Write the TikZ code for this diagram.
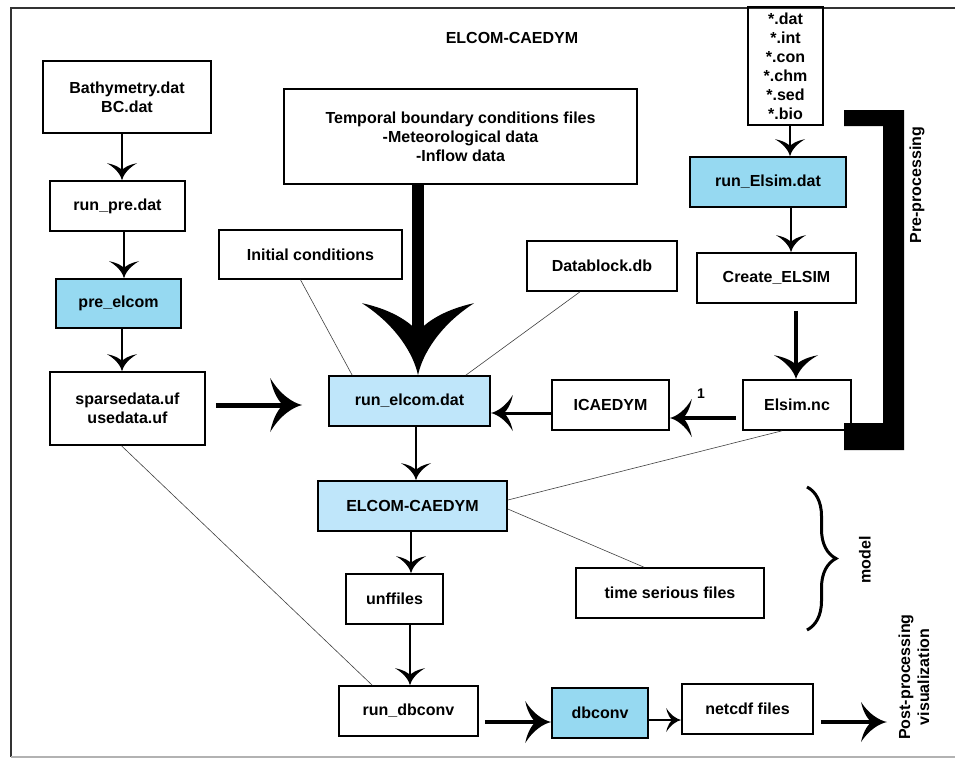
\documentclass[tikz,border=0pt]{standalone}
\usepackage{fontspec}
\setmainfont{Liberation Sans}
\usetikzlibrary{arrows.meta, decorations.pathreplacing}

\definecolor{procblue}{HTML}{96D9F1}
\definecolor{runblue}{HTML}{BFE6FA}

% filled barbed tip with curved arms
\pgfdeclarearrow{
  name = Barb,
  parameters = {\the\pgfarrowlength,\the\pgfarrowwidth},
  setup code = {
    \pgfarrowssettipend{0pt}
    \pgfarrowssetlineend{-.5\pgfarrowlength}
    \pgfarrowssetbackend{-\pgfarrowlength}
    \pgfarrowsupperhullpoint{-\pgfarrowlength}{.5\pgfarrowwidth}
    \pgfarrowsupperhullpoint{0pt}{0pt}
    \pgfarrowssavethe\pgfarrowlength
    \pgfarrowssavethe\pgfarrowwidth
  },
  drawing code = {
    \pgfpathmoveto{\pgfpointorigin}
    \pgfpathcurveto{\pgfpoint{-.3\pgfarrowlength}{.04\pgfarrowwidth}}{\pgfpoint{-.7\pgfarrowlength}{.2\pgfarrowwidth}}{\pgfpoint{-\pgfarrowlength}{.5\pgfarrowwidth}}
    \pgfpathcurveto{\pgfpoint{-.9\pgfarrowlength}{.2\pgfarrowwidth}}{\pgfpoint{-.7\pgfarrowlength}{.05\pgfarrowwidth}}{\pgfpoint{-.6\pgfarrowlength}{0pt}}
    \pgfpathcurveto{\pgfpoint{-.7\pgfarrowlength}{-.05\pgfarrowwidth}}{\pgfpoint{-.9\pgfarrowlength}{-.2\pgfarrowwidth}}{\pgfpoint{-\pgfarrowlength}{-.5\pgfarrowwidth}}
    \pgfpathcurveto{\pgfpoint{-.7\pgfarrowlength}{-.2\pgfarrowwidth}}{\pgfpoint{-.3\pgfarrowlength}{-.04\pgfarrowwidth}}{\pgfpointorigin}
    \pgfpathclose
    \pgfusepathqfill
  },
  defaults = {length=16pt, width=30pt}
}

\tikzset{
  box/.style={draw, line width=1.6pt, inner sep=0pt, align=center},
  procbox/.style={box, fill=procblue},
  runbox/.style={box, fill=runblue},
  flow/.style={line width=2pt, -{Barb[length=17pt,width=30pt]}},
  link/.style={line width=0.6pt, black!75},
}

\begin{document}
\begin{tikzpicture}[x=1pt, y=-1pt, font=\fontsize{16}{19}\selectfont\bfseries]
\useasboundingbox (0,0) rectangle (955,761);
% frame
\draw[line width=2pt, black!80] (958,8) -| (11,757);
\draw[line width=1.5pt, black!30] (11,757) -- (958,757);

\node (title) at (512,38) {ELCOM-CAEDYM};

% left column
\node[box, minimum width=168pt, minimum height=72pt] (bathy) at (127,97) {Bathymetry.dat\\BC.dat};
\node[box, minimum width=135pt, minimum height=50pt] (runpre) at (117.5,206) {run\_pre.dat};
\node[procbox, minimum width=125pt, minimum height=49pt] (preelcom) at (118.5,303.5) {pre\_elcom};
\node[box, minimum width=155pt, minimum height=73pt] (sparse) at (127.5,408.5) {sparsedata.uf\\usedata.uf};

% middle column
\node[box, minimum width=353pt, minimum height=95pt] (temporal) at (460.5,136.5) {Temporal boundary conditions files\\-Meteorological data\\-Inflow data};
\node[box, minimum width=183pt, minimum height=49pt] (initc) at (310.5,254.5) {Initial conditions};
\node[box, minimum width=150pt, minimum height=50pt] (datab) at (602,266) {Datablock.db};
\node[runbox, minimum width=161pt, minimum height=50pt] (runelcom) at (409.5,401) {run\_elcom.dat};
\node[box, minimum width=117pt, minimum height=50pt] (icaedym) at (610.5,405) {ICAEDYM};
\node[runbox, minimum width=189pt, minimum height=50pt] (elcom) at (412.5,506) {ELCOM-CAEDYM};
\node[box, minimum width=97pt, minimum height=50pt] (unf) at (394.5,599) {unffiles};
\node[box, minimum width=188pt, minimum height=50pt] (tsf) at (670,593) {time serious files};
\node[box, minimum width=139pt, minimum height=50pt] (rundb) at (408.5,711) {run\_dbconv};
\node[procbox, minimum width=96pt, minimum height=50pt] (dbconv) at (600,713) {dbconv};
\node[box, minimum width=131pt, minimum height=50pt] (netcdf) at (747.5,709) {netcdf files};

% right column
\node[box, minimum width=75pt, minimum height=118pt] (exts) at (785.5,66) {*.dat\\*.int\\*.con\\*.chm\\*.sed\\*.bio};
\node[procbox, minimum width=156pt, minimum height=50pt] (runelsim) at (768,182) {run\_Elsim.dat};
\node[box, minimum width=159pt, minimum height=50pt] (create) at (776.5,278) {Create\_ELSIM};
\node[box, minimum width=108pt, minimum height=50pt] (elsimnc) at (797,405) {Elsim.nc};

% side labels
\fill (844,110) -- (904,110) -- (904,450) -- (844,450) -- (844,423) -- (883,423) -- (883,126) -- (844,126) -- cycle;
\node[rotate=90] (pre) at (917,185) {Pre-processing};
\draw[decorate, decoration={brace, amplitude=29pt}, line width=3pt] (807,487) -- (807,630);
\node[rotate=90] (model) at (865,560) {model};
\node[rotate=90, align=center] (postproc) at (914,677) {Post-processing\\visualization};

% flow arrows
\foreach \a/\b/\x in {bathy/runpre/122, runpre/preelcom/124, preelcom/sparse/122, exts/runelsim/790, runelsim/create/791, runelcom/elcom/416, elcom/unf/411, unf/rundb/410}
  \draw[flow] (\x,0 |- \a.south) -- (\x,0 |- \b.north);

\draw[line width=12pt, -{Barb[length=72pt,width=112pt]}] (418,0 |- temporal.south) -- (418,0 |- runelcom.north);
\draw[line width=5pt, -{Barb[length=32pt,width=54pt]}, shorten <=10pt, shorten >=26pt] (sparse.east |- 0,405) -- (runelcom.west |- 0,405);
\draw[line width=3.5pt, -{Barb[length=24pt,width=44pt]}, shorten <=7pt] (796,0 |- create.south) -- (796,0 |- elsimnc.north);
\draw[line width=4pt, -{Barb[length=22pt,width=38pt]}, shorten <=6pt] (elsimnc.west |- 0,418) -- (icaedym.east |- 0,418);
\node (one) at (701,394) {\fontsize{14}{14}\selectfont 1};
\draw[line width=3pt, -{Barb[length=22pt,width=36pt]}] (icaedym.west |- 0,413) -- (runelcom.east |- 0,413);
\draw[line width=4pt, -{Barb[length=26pt,width=42pt]}, shorten <=6pt] (rundb.east |- 0,722) -- (dbconv.west |- 0,722);
\draw[line width=2pt, -{Barb[length=15pt,width=24pt]}] (dbconv.east |- 0,720) -- (netcdf.west |- 0,720);
\coordinate (post) at (887,722);
\draw[line width=4pt, -{Barb[length=26pt,width=40pt]}, shorten <=7pt] (netcdf.east |- post) -- (post);

% thin links
\draw[link] ([xshift=-10pt]initc.south) -- ([xshift=24pt]runelcom.north west);
\draw[link] ([xshift=-22pt]datab.south) -- ([xshift=-25pt]runelcom.north east);
\draw[link] ([xshift=-6pt]sparse.south) -- ([xshift=34pt]rundb.north west);
\draw[link] ([xshift=-15pt]elsimnc.south) -- ([yshift=6pt]elcom.east);
\draw[link] ([yshift=-3pt]elcom.east) -- ([xshift=-26pt]tsf.north);
\end{tikzpicture}
\end{document}
